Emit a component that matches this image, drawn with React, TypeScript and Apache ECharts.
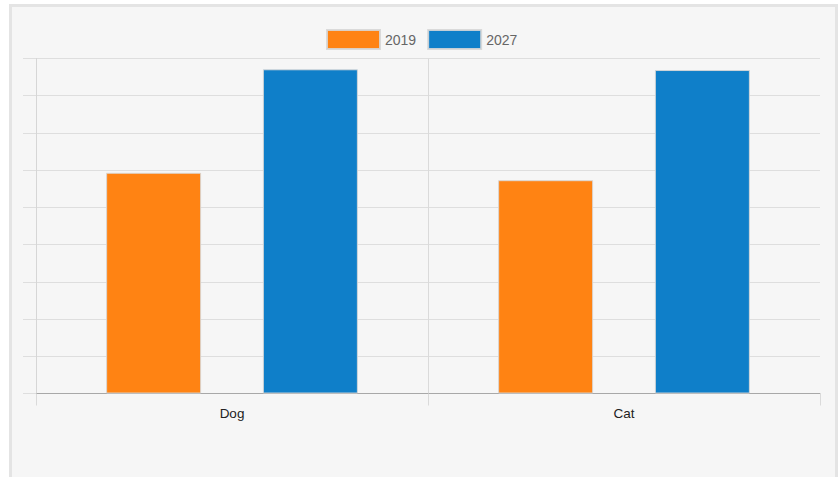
import React, { useEffect, useRef } from "react";
import * as echarts from "echarts";

const categories = ["Dog", "Cat"];
const seriesNames = ["2019", "2027"];
const values2019 = [59.3, 57.3];
const values2027 = [87.1, 86.9];
const colors = ["#FF8313", "#0F7FC9"];

const FONT = 'Arial, "Liberation Sans", sans-serif';

export default function App() {
  const ref = useRef<HTMLDivElement>(null);
  useEffect(() => {
    if (!ref.current) return;
    const chart = echarts.init(ref.current, undefined, { renderer: "svg" });
    chart.setOption({
      animation: false,
      color: colors,
      textStyle: { fontFamily: FONT },
      legend: {
        top: 17,
        left: 309,
        itemWidth: 53,
        itemHeight: 19,
        itemGap: 11,
        icon: "rect",
        textStyle: { color: "#666", fontSize: 14, fontFamily: FONT },
        data: seriesNames,
      },
      grid: { left: 24, top: 51.5, width: 784, height: 335, containLabel: false },
      xAxis: {
        type: "category",
        data: categories,
        axisLine: { show: true, lineStyle: { color: "#a8a8a8", width: 1 } },
        axisTick: { show: true, length: 12, lineStyle: { color: "#dadada" } },
        splitLine: { show: true, showMaxLine: false, lineStyle: { color: "#dadada" } },
        axisLabel: { color: "#222", fontSize: 13.5, margin: 13, fontFamily: FONT },
      },
      yAxis: {
        type: "value",
        min: 0,
        max: 90,
        interval: 10,
        axisLabel: { show: false },
        axisLine: { show: true, lineStyle: { color: "#d6d6d6" } },
        axisTick: { show: true, length: 13, lineStyle: { color: "#dedede" } },
        splitLine: { show: true, lineStyle: { color: "#dedede" } },
      },
      series: [
        {
          name: seriesNames[0],
          type: "bar",
          data: values2019,
          barWidth: 95,
          barGap: "65%",
          itemStyle: { borderColor: "rgba(215,215,215,0.9)", borderWidth: 1 },
        },
        {
          name: seriesNames[1],
          type: "bar",
          data: values2027,
          barWidth: 95,
          barGap: "65%",
          itemStyle: { borderColor: "rgba(215,215,215,0.9)", borderWidth: 1 },
        },
      ],
    });
    return () => chart.dispose();
  }, []);

  return (
    <div
      style={{
        position: "fixed",
        left: 9,
        top: 4,
        width: 829,
        height: 480,
        border: "3px solid #e4e4e4",
        boxSizing: "border-box",
        background: "#f6f6f6",
      }}
    >
      <div ref={ref} style={{ width: 823, height: 474 }} />
    </div>
  );
}
